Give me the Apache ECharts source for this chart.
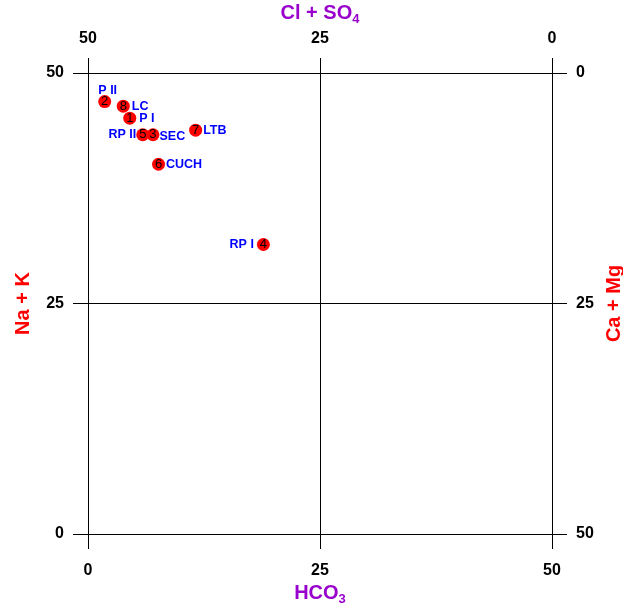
<!DOCTYPE html>
<html>
<head>
<meta charset="utf-8">
<script src="https://cdn.jsdelivr.net/npm/echarts@6/dist/echarts.min.js"></script>
<style>
  html, body { margin: 0; padding: 0; background: #fff; }
</style>
</head>
<body>
<div id="chart" style="width: 623px;height:608px;"></div>
<script>
// sample data
var sampleNums = [1, 2, 3, 4, 5, 6, 7, 8];
var sampleNames = ["P I", "P II", "SEC", "RP I", "RP II", "CUCH", "LTB", "LC"];
var hco3 = [4.5, 1.8, 7.0, 18.9, 5.9, 7.6, 11.6, 3.8];
var naK = [45.1, 46.9, 43.3, 31.4, 43.3, 40.1, 43.8, 46.4];
var tickValues = [0, 25, 50];

// where each name label sits around its point
var labelPlace = {
  "P I": { position: "right", distance: 3 },
  "P II": { position: "top", distance: 0, offset: [3, 2] },
  "SEC": { position: "right", distance: 0, offset: [0, 2] },
  "RP I": { position: "left", distance: 3 },
  "RP II": { position: "left", distance: 0 },
  "CUCH": { position: "right", distance: 1 },
  "LTB": { position: "right", distance: 1 },
  "LC": { position: "right", distance: 2 }
};

var myChart = echarts.init(document.getElementById("chart"));

var lineStyle = { color: "#000", width: 1 };
var font = "Liberation Sans, Arial, sans-serif";
var tickLabel = { color: "#000", fontSize: 16, fontWeight: "bold", fontFamily: font };
var purpleName = "#9900cc";

function valueAxis(extra) {
  var ax = {
    type: "value",
    min: tickValues[0],
    max: tickValues[tickValues.length - 1],
    interval: 25,
    axisLine: { show: true, onZero: false, lineStyle: lineStyle },
    axisTick: { show: true, length: 15, lineStyle: lineStyle }, //坐标轴外伸线
    splitLine: { show: true, lineStyle: lineStyle },
    axisLabel: Object.assign({ margin: 24 }, tickLabel)
  };
  return Object.assign(ax, extra);
}

var subRich = function (color) {
  return {
    a: { color: color, fontSize: 20, fontWeight: "bold", fontFamily: font },
    s: { color: color, fontSize: 13, fontWeight: "bold", fontFamily: font, padding: [12, 0, 0, 0] }
  };
};

var points = [];
var namePoints = [];
for (var i = 0; i < sampleNums.length; i++) {
  points.push({ value: [hco3[i], naK[i]], name: String(sampleNums[i]) });
  var place = labelPlace[sampleNames[i]];
  namePoints.push({
    value: [hco3[i], naK[i]],
    name: sampleNames[i],
    label: {
      position: place.position,
      distance: place.distance,
      offset: place.offset || [0, 0]
    }
  });
}

var option = {
  animation: false,
  grid: { left: 88, right: 71, top: 73, bottom: 74, containLabel: false, outerBoundsMode: "none" },
  xAxis: [
    valueAxis({
      position: "bottom",
      name: "{a|HCO}{s|3}",
      nameLocation: "middle",
      nameGap: 44,
      nameTextStyle: { rich: subRich(purpleName) },
      axisLabel: Object.assign({ margin: 29 }, tickLabel)
    }),
    valueAxis({
      position: "top",
      inverse: true,
      name: "{a|Cl + SO}{s|4}",
      nameLocation: "middle",
      nameGap: 46,
      nameTextStyle: { rich: subRich(purpleName) },
      axisLabel: Object.assign({ margin: 26 }, tickLabel)
    })
  ],
  yAxis: [
    valueAxis({
      position: "left",
      name: "Na + K",
      nameLocation: "middle",
      nameRotate: 90,
      nameGap: 55,
      nameTextStyle: { color: "#ff0000", fontSize: 20, fontWeight: "bold", fontFamily: font }
    }),
    valueAxis({
      position: "right",
      inverse: true,
      name: "Ca + Mg",
      nameLocation: "middle",
      nameRotate: 90,
      nameGap: 50,
      nameTextStyle: { color: "#ff0000", fontSize: 20, fontWeight: "bold", fontFamily: font }
    })
  ],
  series: [
    {
      // 样品名称
      type: "scatter",
      xAxisIndex: 0,
      yAxisIndex: 0,
      symbolSize: 13,
      itemStyle: { color: "rgba(0,0,0,0)", opacity: 1 },
      label: {
        show: true,
        formatter: "{b}",
        color: "#0000ff",
        fontSize: 12.5,
        fontWeight: "bold",
        fontFamily: font
      },
      data: namePoints,
      z: 3
    },
    {
      // 样品点
      type: "scatter",
      xAxisIndex: 0,
      yAxisIndex: 0,
      symbolSize: 13,
      itemStyle: { color: "#ff0000", opacity: 1 },
      label: {
        show: true,
        position: "inside",
        formatter: "{b}",
        color: "#000",
        fontSize: 13,
        fontFamily: font
      },
      data: points,
      z: 4
    }
  ]
};

myChart.setOption(option);
</script>
</body>
</html>
